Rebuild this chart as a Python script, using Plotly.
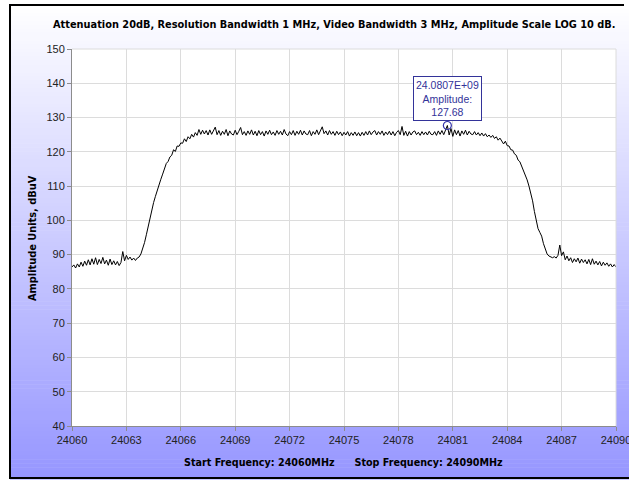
import plotly.graph_objects as go

# ---------------- data ----------------
start_mhz = 24060.0
stop_mhz = 24090.0
amplitude_dbuv = [
    86.4, 87.0, 86.1, 87.3, 86.4, 87.8, 86.6, 88.1, 86.9, 88.5,
    87.0, 88.8, 87.2, 89.1, 87.1, 88.6, 87.4, 89.2, 87.3, 88.4,
    86.9, 88.7, 87.1, 88.2, 87.0, 88.0, 86.8, 87.7, 90.9, 88.2,
    89.8, 88.6, 89.3, 88.4, 89.0, 88.3, 89.0, 89.3, 90.2, 91.6,
    93.5, 95.8, 98.4, 100.9, 103.0, 105.2, 107.0, 108.9, 110.4, 112.0,
    113.5, 115.0, 116.6, 117.2, 118.5, 119.0, 120.6, 120.1, 121.7, 121.6,
    122.6, 122.5, 123.8, 123.0, 124.4, 123.8, 125.1, 124.3, 125.6, 124.8,
    126.5, 125.1, 126.3, 125.2, 126.2, 124.9, 126.4, 125.1, 126.1, 127.2,
    125.0, 126.2, 124.8, 126.0, 125.1, 126.5, 124.7, 126.1, 125.2, 124.9,
    126.3, 125.0, 126.0, 127.1, 125.0, 125.9, 124.8, 126.1, 125.1, 126.4,
    124.9, 126.0, 124.7, 126.2, 125.0, 125.9, 124.6, 126.1, 125.1, 126.3,
    125.0, 125.8, 124.8, 126.2, 125.1, 126.0, 124.9, 126.5, 125.2, 124.7,
    125.9, 125.0, 126.2, 124.8, 126.0, 125.1, 126.3, 124.9, 126.1, 125.2,
    125.0, 126.2, 124.7, 125.9, 125.1, 126.4, 125.0, 126.0, 127.3, 125.3,
    126.1, 124.9, 126.2, 125.1, 125.9, 124.8, 126.0, 125.0, 125.8, 124.7,
    125.7, 124.9, 125.9, 124.6, 125.6, 124.8, 125.8, 124.7, 125.6, 124.6,
    125.7, 124.8, 125.9, 124.9, 126.1, 125.0, 125.8, 126.2, 124.9, 125.9,
    125.1, 126.1, 124.8, 125.8, 125.0, 126.0, 124.9, 125.9, 124.7, 125.7,
    126.2, 125.0, 127.4, 124.8, 126.0, 124.6, 125.9, 124.9, 125.8, 126.1,
    125.0, 125.7, 124.8, 125.9, 125.0, 125.8, 124.9, 126.0, 125.1, 125.0,
    125.9, 124.8, 126.1, 125.1, 126.2, 125.0, 126.6, 127.68, 124.9, 126.8,
    124.5, 126.4, 125.0, 126.2, 124.6, 126.1, 125.1, 126.3, 124.9, 126.0,
    125.2, 125.0, 125.9, 124.9, 125.6, 124.7, 125.5, 124.6, 125.3, 124.4,
    124.9, 124.2, 124.8, 123.9, 124.4, 123.4, 124.0, 122.9, 122.3, 123.1,
    121.8, 121.7, 120.6, 120.5, 119.4, 119.0, 117.6, 117.1, 115.8, 114.9,
    113.4, 111.8, 110.0, 107.9, 105.7, 102.6, 99.8, 97.6, 96.5, 95.4,
    93.2, 91.4, 90.2, 89.6, 89.3, 89.1, 89.4, 89.0, 89.8, 92.8,
    89.7, 90.8, 88.5, 89.6, 88.2, 89.1, 87.7, 88.8, 87.9, 89.0,
    87.5, 88.7, 87.7, 88.5, 87.3, 88.6, 87.1, 88.8, 87.2, 88.1,
    87.0, 88.0, 86.7, 87.8, 86.9, 87.6, 86.6, 87.3, 86.4, 87.1,
    86.4,
]
marker_freq = [24080.7]
marker_amp = [127.68]
marker_label = "24.0807E+09<br>Amplitude:<br>127.68"
x_ticks = [24060, 24063, 24066, 24069, 24072, 24075, 24078, 24081, 24084, 24087, 24090]
y_ticks = [40, 50, 60, 70, 80, 90, 100, 110, 120, 130, 140, 150]
title_text = "Attenuation 20dB, Resolution Bandwidth 1 MHz, Video Bandwidth 3 MHz, Amplitude Scale LOG 10 dB."
y_title = "Amplitude Units, dBuV"
x_title = "Start Frequency: 24060MHz&nbsp;&nbsp;&nbsp;&nbsp;&nbsp;&nbsp;Stop Frequency: 24090MHz"

n = len(amplitude_dbuv)
freq_mhz = [start_mhz + (stop_mhz - start_mhz) * i / (n - 1) for i in range(n)]

# ---------------- layout geometry (pixels) ----------------
W, H = 629, 481
L, R, T, B = 72, 13, 49, 55
PW, PH = W - L - R, H - T - B


def px(x):
    return (x - L) / PW


def py(y):
    return (H - B - y) / PH


FONT = "Liberation Sans, Arial, sans-serif"
BOLD_FONT = "DejaVu Sans, Verdana, sans-serif"

shapes = []
# gradient background inside the outer frame
y0, y1 = 5, 479
nb = 120
c_top = (255, 255, 255)
c_bot = (150, 150, 255)
for k in range(nb):
    a = y0 + (y1 - y0) * k / nb
    b = y0 + (y1 - y0) * (k + 1) / nb
    t = (k + 0.5) / nb
    col = tuple(round(c_top[j] + (c_bot[j] - c_top[j]) * t) for j in range(3))
    shapes.append(dict(type="rect", xref="paper", yref="paper", layer="below",
                       x0=px(10), x1=px(632), y0=py(b + 0.6), y1=py(a),
                       fillcolor="rgb(%d,%d,%d)" % col, line=dict(width=0)))
# plot area white
shapes.append(dict(type="rect", xref="paper", yref="paper", layer="below",
                   x0=0, x1=1, y0=0, y1=1, fillcolor="white", line=dict(width=0)))
# outer frame
shapes.append(dict(type="line", xref="paper", yref="paper", x0=px(10), x1=px(10),
                   y0=py(4), y1=py(479), line=dict(color="black", width=2)))
shapes.append(dict(type="line", xref="paper", yref="paper", x0=px(9), x1=px(624),
                   y0=py(5), y1=py(5), line=dict(color="black", width=2)))
shapes.append(dict(type="line", xref="paper", yref="paper", x0=px(9), x1=px(632),
                   y0=py(478), y1=py(478), line=dict(color="black", width=2)))
# top/right plot edges
shapes.append(dict(type="line", xref="paper", yref="paper", x0=0, x1=1, y0=1, y1=1,
                   line=dict(color="#dcdcdc", width=1)))
shapes.append(dict(type="line", xref="paper", yref="paper", x0=1, x1=1, y0=0, y1=1,
                   line=dict(color="#dcdcdc", width=1)))

fig = go.Figure()
fig.add_trace(go.Scatter(x=freq_mhz, y=amplitude_dbuv, mode="lines",
                         line=dict(color="black", width=1), hoverinfo="skip"))
fig.add_trace(go.Scatter(x=marker_freq, y=marker_amp, mode="markers",
                         marker=dict(symbol="circle-open", size=8,
                                     color="#3333aa", line=dict(width=1.2)),
                         hoverinfo="skip"))

annotations = [
    dict(text=title_text, xref="paper", yref="paper", x=px(334), y=py(24),
         showarrow=False, xanchor="center", yanchor="middle",
         font=dict(family=BOLD_FONT, size=9.8, color="black", weight="bold")),
    dict(text=y_title, xref="paper", yref="paper", x=px(32), y=py(238),
         showarrow=False, textangle=-90, xanchor="center", yanchor="middle",
         font=dict(family=BOLD_FONT, size=9.8, color="black", weight="bold")),
    dict(text=x_title, xref="paper", yref="paper", x=px(343), y=py(462),
         showarrow=False, xanchor="center", yanchor="middle",
         font=dict(family=BOLD_FONT, size=9.6, color="black", weight="bold")),
    dict(text=marker_label, x=marker_freq[0], y=marker_amp[0], xref="x", yref="y",
         showarrow=False, xanchor="center", yanchor="bottom", yshift=5,
         bgcolor="white", bordercolor="#333399", borderwidth=1, borderpad=2,
         font=dict(family=FONT, size=10.5, color="#333399")),
]

fig.update_layout(
    width=W, height=H,
    margin=dict(l=L, r=R, t=T, b=B, pad=0, autoexpand=False),
    paper_bgcolor="white", plot_bgcolor="rgba(0,0,0,0)",
    showlegend=False,
    shapes=shapes, annotations=annotations,
    xaxis=dict(range=[start_mhz, stop_mhz], tickmode="array", tickvals=x_ticks,
               ticktext=[str(v) for v in x_ticks], ticklabeloverflow="allow",
               automargin=False,
               showgrid=True, gridcolor="#dcdcdc", gridwidth=1,
               showline=True, linecolor="#8c8c8c", linewidth=1,
               ticks="outside", ticklen=4, tickcolor="#8c8c8c",
               zeroline=False, tickfont=dict(family=FONT, size=11, color="#222")),
    yaxis=dict(range=[40, 150], tickmode="array", tickvals=y_ticks,
               automargin=False,
               showgrid=True, gridcolor="#dcdcdc", gridwidth=1,
               showline=True, linecolor="#8c8c8c", linewidth=1,
               ticks="outside", ticklen=4, tickcolor="#8c8c8c",
               zeroline=False, tickfont=dict(family=FONT, size=11, color="#222")),
)

fig.write_html("out.html", config={"displayModeBar": False},
               post_script="document.body.style.margin='0px';")
